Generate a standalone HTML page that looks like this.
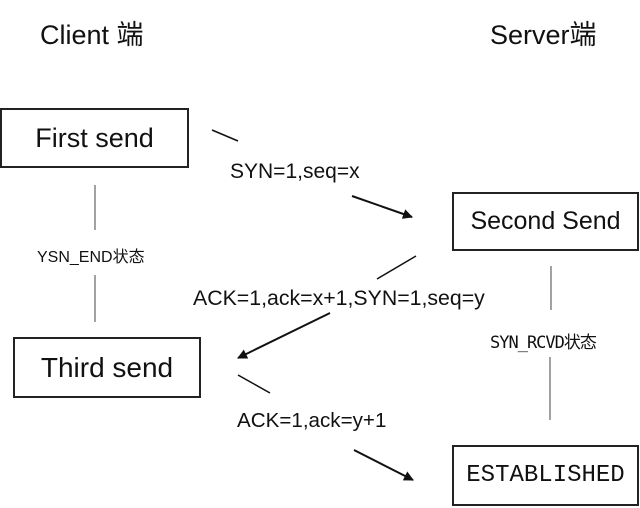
<!DOCTYPE html>
<html><head><meta charset="utf-8"><style>
body{margin:0;width:640px;height:508px;background:#fff;overflow:hidden;position:relative;font-family:"Liberation Sans","Noto Sans CJK SC",sans-serif;color:#111}
.t{position:absolute;white-space:nowrap}
.box{position:absolute;border:2px solid #222;box-sizing:border-box;display:flex;align-items:center;justify-content:center;font-size:27px}
</style></head><body>
<div class="t" style="left:40px;top:13px;font-size:27px">Client 端</div>
<div class="t" style="left:490px;top:13px;font-size:27px">Server端</div>
<div class="box" style="left:0;top:108px;width:189px;height:60px">First send</div>
<div class="box" style="left:452px;top:192px;width:187px;height:59px;font-size:25px">Second Send</div>
<div class="box" style="left:13px;top:337px;width:188px;height:61px;font-size:28px">Third send</div>
<div class="box" style="left:452px;top:445px;width:187px;height:61px;font-family:'Liberation Mono','DejaVu Sans Mono',monospace;font-size:24px">ESTABLISHED</div>
<div class="t" style="left:230px;top:160px;font-size:21px">SYN=1,seq=x</div>
<div class="t" style="left:193px;top:286px;font-size:21.3px">ACK=1,ack=x+1,SYN=1,seq=y</div>
<div class="t" style="left:237px;top:409px;font-size:20.6px">ACK=1,ack=y+1</div>
<div class="t" style="left:37px;top:243px;font-size:16px">YSN_END状态</div>
<div class="t" style="left:490px;top:328px;font-size:17px;font-family:'DejaVu Sans Mono','Noto Sans CJK SC',monospace;letter-spacing:-1px">SYN_RCVD状态</div>
<svg width="640" height="508" style="position:absolute;left:0;top:0">
<defs><marker id="a" markerWidth="10" markerHeight="10" refX="9" refY="5" orient="auto" markerUnits="userSpaceOnUse"><path d="M0,0 L10,5 L0,10 Z" fill="#111"/></marker></defs>
<g stroke="#111" stroke-width="1.5">
<line x1="212" y1="130" x2="238" y2="141"/>
<line x1="352" y1="196" x2="412" y2="217" marker-end="url(#a)" stroke-width="2"/>
<line x1="416" y1="256" x2="377" y2="279"/>
<line x1="330" y1="313" x2="238" y2="358" marker-end="url(#a)" stroke-width="2"/>
<line x1="238" y1="375" x2="270" y2="393"/>
<line x1="354" y1="450" x2="413" y2="480" marker-end="url(#a)" stroke-width="2"/>
</g>
<g stroke="#444" stroke-width="1">
<line x1="95" y1="185" x2="95" y2="230"/>
<line x1="95" y1="275" x2="95" y2="322"/>
<line x1="551" y1="266" x2="551" y2="310"/>
<line x1="550" y1="357" x2="550" y2="420"/>
</g>
</svg>
</body></html>
